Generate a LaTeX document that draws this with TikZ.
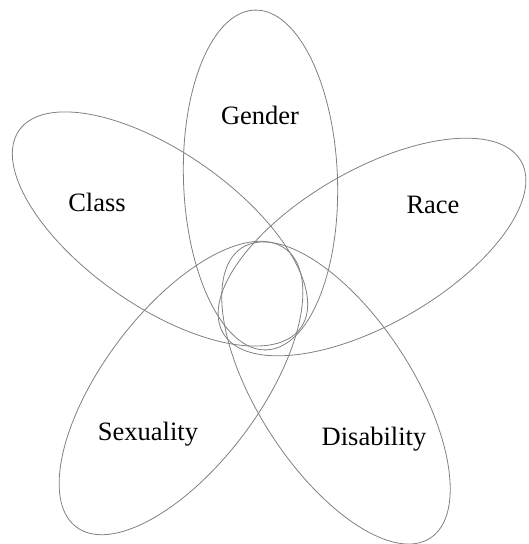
\documentclass[tikz,border=0pt]{standalone}
\usepackage{fontspec}
\setmainfont{Liberation Serif}
\begin{document}
\begin{tikzpicture}[x=1pt,y=-1pt,
  petal/.style={draw=black!50, line width=0.8pt},
  lbl/.style={anchor=base, inner sep=0pt, font=\fontsize{26.5}{30}\selectfont}]
\useasboundingbox (0,0) rectangle (528,544);
% petals
\draw[petal] (260.5,180) coordinate (cg) ellipse [x radius=77pt, y radius=170pt, rotate=2];
\draw[petal] (160,229) coordinate (cc) ellipse [x radius=172pt, y radius=77pt, rotate=-35];
\draw[petal] (372,247) coordinate (cr) ellipse [x radius=172pt, y radius=77pt, rotate=30];
\draw[petal] (181,388) coordinate (cs) ellipse [x radius=174pt, y radius=78pt, rotate=53];
\draw[petal] (336,393) coordinate (cd) ellipse [x radius=173pt, y radius=77pt, rotate=-57];
% labels
\node[lbl] (gender) at (260,124) {Gender};
\node[lbl] (class) at (97,211) {Class};
\node[lbl] (race) at (433,213) {Race};
\node[lbl] (sexuality) at (148,440) {Sexuality};
\node[lbl] (disability) at (374,445) {Disability};
\end{tikzpicture}
\end{document}
